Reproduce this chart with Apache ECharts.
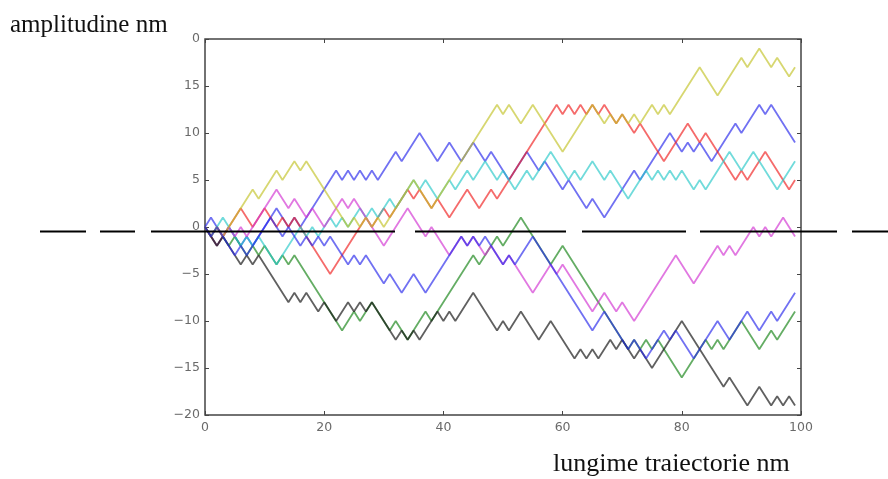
<!DOCTYPE html>
<html>
<head>
<meta charset="utf-8">
<script src="https://cdn.jsdelivr.net/npm/echarts@6/dist/echarts.min.js"></script>
<style>html,body{margin:0;padding:0;background:#fff}#c{width:888px;height:479px}</style>
</head>
<body>
<div id="c"></div>
<script>
// Turning points [step, amplitude] of each random walk
var blueUpper = [[0,0],[1,1],[3,-1],[4,0],[6,-2],[7,-1],[8,-2],[12,2],[14,0],[15,1],[16,0],[22,6],[23,5],[24,6],[25,5],[26,6],[27,5],[28,6],[29,5],[32,8],[33,7],[36,10],[39,7],[41,9],[43,7],[45,9],[47,7],[48,8],[51,5],[54,8],[56,6],[57,7],[60,4],[61,5],[64,2],[65,3],[67,1],[72,6],[73,5],[78,10],[80,8],[81,9],[82,8],[83,9],[85,7],[89,11],[90,10],[93,13],[94,12],[95,13],[99,9]];
var green = [[0,0],[2,-2],[3,-1],[4,-2],[5,-1],[7,-3],[8,-2],[9,-3],[10,-2],[12,-4],[13,-3],[14,-4],[15,-3],[23,-11],[25,-9],[26,-10],[28,-8],[31,-11],[32,-10],[34,-12],[37,-9],[38,-10],[39,-9],[45,-3],[46,-4],[49,-1],[50,-2],[53,1],[58,-4],[60,-2],[71,-13],[72,-12],[73,-13],[74,-12],[75,-13],[76,-12],[80,-16],[84,-12],[85,-13],[86,-12],[87,-13],[90,-10],[93,-13],[95,-11],[96,-12],[99,-9]];
var red = [[0,0],[1,-1],[2,0],[3,-1],[6,2],[8,0],[10,2],[12,0],[13,1],[14,0],[15,1],[16,0],[21,-5],[27,1],[28,0],[30,2],[31,1],[34,4],[35,3],[36,4],[38,2],[39,3],[41,1],[44,4],[46,2],[48,4],[49,3],[59,13],[60,12],[61,13],[62,12],[63,13],[64,12],[65,13],[66,12],[67,13],[69,11],[70,12],[72,10],[73,11],[77,7],[81,11],[83,9],[84,10],[89,5],[90,6],[91,5],[92,6],[94,8],[98,4],[99,5]];
var cyan = [[0,0],[1,-1],[3,1],[6,-2],[7,-1],[8,-2],[9,-1],[12,-4],[16,0],[17,-1],[18,0],[19,-1],[21,1],[22,0],[23,1],[24,0],[26,2],[27,1],[28,2],[29,1],[31,3],[32,2],[35,5],[36,4],[37,5],[39,3],[41,5],[42,4],[44,6],[45,5],[47,7],[49,5],[50,6],[52,4],[54,6],[55,5],[58,8],[61,5],[62,6],[63,5],[65,7],[67,5],[68,6],[71,3],[74,6],[75,5],[76,6],[77,5],[78,6],[79,5],[80,6],[82,4],[83,5],[84,4],[88,8],[90,6],[92,8],[96,4],[99,7]];
var magenta = [[0,0],[2,-2],[4,0],[5,-1],[6,0],[7,-1],[8,0],[12,4],[14,2],[15,3],[17,1],[18,2],[20,0],[23,3],[24,2],[25,3],[30,-2],[34,2],[37,-1],[38,0],[41,-3],[43,-1],[44,-2],[45,-1],[47,-3],[48,-2],[50,-4],[51,-3],[55,-7],[58,-4],[59,-5],[60,-4],[65,-9],[67,-7],[69,-9],[70,-8],[72,-10],[79,-3],[82,-6],[86,-2],[87,-3],[88,-2],[89,-3],[92,0],[93,-1],[94,0],[95,-1],[97,1],[99,-1]];
var yellow = [[0,0],[1,-1],[2,0],[3,-1],[4,0],[8,4],[9,3],[12,6],[13,5],[15,7],[16,6],[17,7],[23,1],[24,0],[25,1],[26,0],[27,1],[28,0],[29,1],[30,0],[31,1],[35,5],[38,2],[49,13],[50,12],[51,13],[53,11],[55,13],[60,8],[65,13],[67,11],[68,12],[69,11],[70,12],[71,11],[72,12],[73,11],[75,13],[76,12],[77,13],[78,12],[83,17],[86,14],[90,18],[91,17],[93,19],[95,17],[96,18],[98,16],[99,17]];
var black = [[0,0],[2,-2],[3,-1],[6,-4],[7,-3],[8,-4],[9,-3],[14,-8],[15,-7],[16,-8],[17,-7],[19,-9],[20,-8],[22,-10],[24,-8],[25,-9],[26,-8],[27,-9],[28,-8],[32,-12],[33,-11],[34,-12],[35,-11],[36,-12],[39,-9],[40,-10],[41,-9],[42,-10],[45,-7],[49,-11],[50,-10],[51,-11],[53,-9],[56,-12],[58,-10],[62,-14],[63,-13],[64,-14],[65,-13],[66,-14],[68,-12],[69,-13],[70,-12],[72,-14],[73,-13],[75,-15],[80,-10],[87,-17],[88,-16],[91,-19],[93,-17],[95,-19],[96,-18],[97,-19],[98,-18],[99,-19]];
var blueLower = [[0,0],[1,-1],[2,0],[3,-1],[5,-3],[6,-2],[7,-3],[11,1],[13,-1],[14,0],[16,-2],[17,-1],[18,-2],[19,-1],[20,-2],[21,-1],[24,-4],[25,-3],[26,-4],[27,-3],[30,-6],[31,-5],[33,-7],[35,-5],[37,-7],[43,-1],[44,-2],[45,-1],[46,-2],[47,-1],[50,-4],[51,-3],[52,-4],[55,-1],[65,-11],[67,-9],[71,-13],[72,-12],[74,-14],[77,-11],[78,-12],[79,-11],[82,-14],[86,-10],[88,-12],[91,-9],[93,-11],[95,-9],[96,-10],[99,-7]];

var xTicks = [0, 20, 40, 60, 80, 100];
var yTickValues = [-20, -15, -10, -5, 0, 5, 10, 15, 20];
var yTickLabels = ['\u221220', '\u221215', '\u221210', '\u22125', '0', '5', '10', '15', '0'];
var yTitle = 'amplitudine nm';
var xTitle = 'lungime traiectorie nm';

var walks = [
  {data: blueUpper, color: 'rgba(40,40,235,0.66)'},
  {data: green, color: 'rgba(20,130,20,0.66)'},
  {data: red, color: 'rgba(240,30,30,0.66)'},
  {data: cyan, color: 'rgba(40,200,200,0.66)'},
  {data: magenta, color: 'rgba(210,50,210,0.66)'},
  {data: yellow, color: 'rgba(195,195,40,0.66)'},
  {data: black, color: 'rgba(20,20,20,0.68)'},
  {data: blueLower, color: 'rgba(40,40,235,0.66)'}
];

var chart = echarts.init(document.getElementById('c'), null, {renderer: 'canvas'});
var labelStyle = {color: '#6a6a6a', fontFamily: 'DejaVu Sans', fontSize: 12.5};
var tickStyle = {show: true, inside: true, length: 4, lineStyle: {color: '#444'}};
var option = {
  animation: false,
  grid: {left: 205, top: 39, width: 596, height: 376, show: true, borderColor: '#444', borderWidth: 1.5, backgroundColor: 'transparent'},
  xAxis: [{
    type: 'value', min: xTicks[0], max: xTicks[xTicks.length - 1], interval: 20, position: 'bottom',
    axisLine: {show: false, onZero: false}, splitLine: {show: false},
    axisTick: tickStyle,
    axisLabel: Object.assign({margin: 6}, labelStyle)
  }, {
    type: 'value', min: 0, max: 100, interval: 20, position: 'top',
    axisLine: {show: false, onZero: false}, splitLine: {show: false},
    axisTick: tickStyle,
    axisLabel: {show: false}
  }],
  yAxis: [{
    type: 'value', min: yTickValues[0], max: yTickValues[yTickValues.length - 1], interval: 5, position: 'left',
    axisLine: {show: false, onZero: false}, splitLine: {show: false},
    axisTick: tickStyle,
    axisLabel: Object.assign({margin: 5, formatter: function (v) {
      var i = yTickValues.indexOf(v); return i >= 0 ? yTickLabels[i] : '';
    }}, labelStyle)
  }, {
    type: 'value', min: -20, max: 20, interval: 5, position: 'right',
    axisLine: {show: false, onZero: false}, splitLine: {show: false},
    axisTick: tickStyle,
    axisLabel: {show: false}
  }],
  series: walks.map(function (w) {
    return {type: 'line', data: w.data, showSymbol: false, symbol: 'none', silent: true,
      lineStyle: {color: w.color, width: 1.8}, itemStyle: {color: w.color}};
  }),
  graphic: [
    {type: 'text', left: 10, top: 13, style: {text: yTitle, font: '25px "Liberation Serif"', fill: '#111'}},
    {type: 'text', left: 553, top: 451, style: {text: xTitle, font: '26px "Liberation Serif"', fill: '#111'}}
  ].concat([[40,86],[100,135],[151,395],[415,566],[582,686],[700,837],[852,888]].map(function (s) {
    return {type: 'line', z: 100, shape: {x1: s[0], y1: 231.5, x2: s[1], y2: 231.5}, style: {stroke: '#000', lineWidth: 2}};
  }))
};
chart.setOption(option);
</script>
</body>
</html>
